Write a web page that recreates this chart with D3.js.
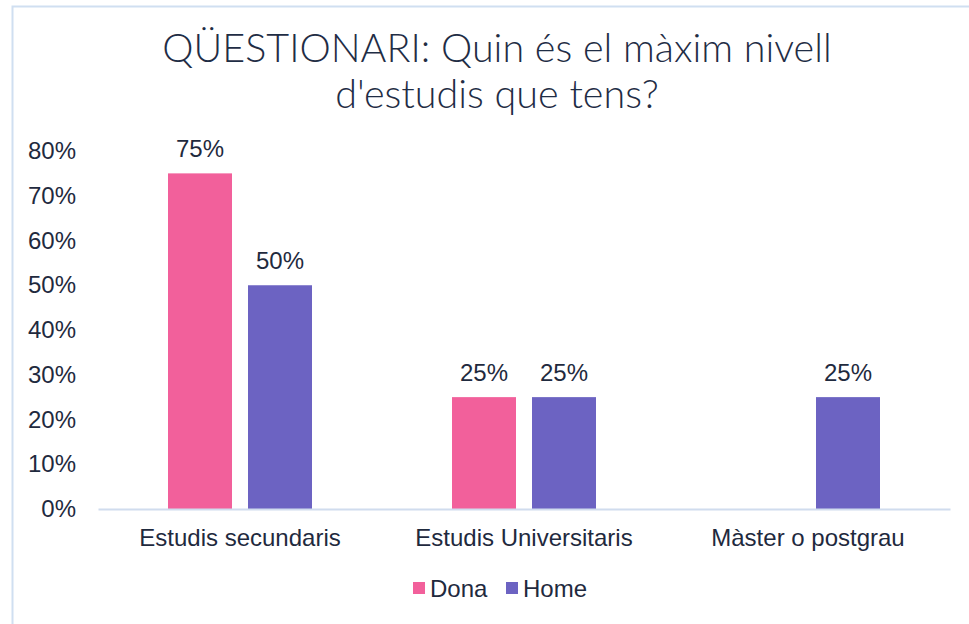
<!DOCTYPE html>
<html>
<head>
<meta charset="utf-8">
<script src="https://cdn.jsdelivr.net/npm/d3@7"></script>
<style>
body { margin: 0; background: #fff; }
svg { display: block; }
</style>
</head>
<body>
<svg id="chart" width="969" height="624"></svg>
<script>
var categories = ["Estudis secundaris", "Estudis Universitaris", "Màster o postgrau"];
var seriesNames = ["Dona", "Home"];
var donaValues = [0.75, 0.25, 0];
var homeValues = [0.50, 0.25, 0.25];
var yTicks = [0, 0.1, 0.2, 0.3, 0.4, 0.5, 0.6, 0.7, 0.8];
var titleLines = ["QÜESTIONARI: Quin és el màxim nivell", "d'estudis que tens?"];

var colors = { "Dona": "#f2609b", "Home": "#6c63c2" };
var textColor = "#1f2a3e";
var font = "'Liberation Sans', Arial, sans-serif";

var svg = d3.select("#chart");
var W = +svg.attr("width"), H = +svg.attr("height");

// frame
svg.append("rect")
	.attr("x", 12.5).attr("y", 6.5)
	.attr("width", W + 20).attr("height", H + 20)
	.attr("fill", "#fff")
	.attr("stroke", "#d0dff1").attr("stroke-width", 2);

// title
svg.append("g").selectAll("text")
	.data(titleLines)
	.enter().append("text")
	.attr("x", 497)
	.attr("y", function(d, i) { return 62 + i * 46; })
	.attr("text-anchor", "middle")
	.attr("font-family", "Lato, sans-serif")
	.attr("font-weight", 300)
	.attr("font-size", 39.5)
	.attr("fill", "#1f2d45")
	.text(function(d) { return d; });

var x0 = d3.scaleBand().domain(categories).range([98, 950]).paddingInner(0).paddingOuter(0);
var x1 = d3.scaleBand().domain(seriesNames).range([0, x0.bandwidth()]).paddingInner(0.2).paddingOuter(0.875);
var y = d3.scaleLinear().domain([0, 0.8]).range([509, 151]);
var pct = d3.format(".0%");

// y axis labels
var yAxis = d3.axisLeft(y).tickValues(yTicks).tickFormat(pct).tickSize(0).tickPadding(0);
var yg = svg.append("g").attr("transform", "translate(76,0)").call(yAxis);
yg.select(".domain").remove();
yg.selectAll("text")
	.attr("font-family", font)
	.attr("font-size", 24)
	.attr("fill", textColor);

var rows = categories.map(function(c, i) {
	return { cat: c, vals: [ { s: "Dona", v: donaValues[i] }, { s: "Home", v: homeValues[i] } ] };
});

var groups = svg.append("g").selectAll("g")
	.data(rows)
	.enter().append("g")
	.attr("transform", function(d) { return "translate(" + x0(d.cat) + ",0)"; });

var bars = groups.selectAll("g")
	.data(function(d) { return d.vals.filter(function(v) { return v.v > 0; }); })
	.enter().append("g");

bars.append("rect")
	.attr("x", function(d) { return x1(d.s); })
	.attr("y", function(d) { return y(d.v); })
	.attr("width", x1.bandwidth())
	.attr("height", function(d) { return y(0) - y(d.v); })
	.attr("fill", function(d) { return colors[d.s]; });

bars.append("text")
	.attr("x", function(d) { return x1(d.s) + x1.bandwidth() / 2; })
	.attr("y", function(d) { return y(d.v) - 16; })
	.attr("text-anchor", "middle")
	.attr("font-family", font)
	.attr("font-size", 24)
	.attr("fill", textColor)
	.text(function(d) { return pct(d.v); });

// x axis
var xAxis = d3.axisBottom(x0).tickSize(0).tickPadding(20);
var xg = svg.append("g").attr("transform", "translate(0," + y(0) + ")").call(xAxis);
xg.select(".domain").attr("stroke", "#d0dcee").attr("stroke-width", 2);
xg.selectAll("text")
	.attr("font-family", font)
	.attr("font-size", 24)
	.attr("fill", textColor);

// legend
var legendX = [413, 506];
var lg = svg.append("g").selectAll("g")
	.data(seriesNames)
	.enter().append("g")
	.attr("transform", function(d, i) { return "translate(" + legendX[i] + ",582)"; });
lg.append("rect").attr("width", 12).attr("height", 12).attr("fill", function(d) { return colors[d]; });
lg.append("text")
	.attr("x", 17).attr("y", 15)
	.attr("font-family", font)
	.attr("font-size", 24)
	.attr("fill", textColor)
	.text(function(d) { return d; });
</script>
</body>
</html>
